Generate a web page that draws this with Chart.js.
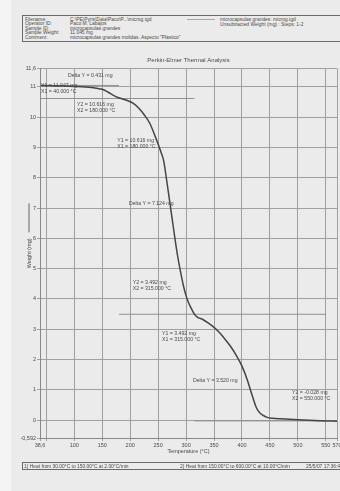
<!DOCTYPE html>
<html>
<head>
<meta charset="utf-8">
<script src="https://cdn.jsdelivr.net/npm/chart.js@4.4.1/dist/chart.umd.min.js"></script>
<style>
  html, body { margin: 0; padding: 0; width: 340px; height: 491px; overflow: hidden;
    background: #f4f4f4; font-family: "Liberation Sans", Arial, sans-serif; color: #4a4a4a; }
  #sheet { position: absolute; left: 11px; top: 0; width: 329px; height: 491px; background: #ebebeb; }
  #plot { position: absolute; left: 0; top: 0; }
  .box { position: absolute; border: 1px solid #6a6a6a; box-sizing: border-box; }
  .t { position: absolute; font-size: 4.9px; line-height: 5px; white-space: nowrap; color: #4a4a4a; }
  .swatch { position: absolute; height: 0; border-top: 1px solid #a8a8a8; }
</style>
</head>
<body>
<div id="sheet"></div>

<!-- run information header -->
<div class="box" style="left:22px;top:15px;width:330px;height:27px;"></div>
<div class="t" style="left:25px;top:16.5px;">Filename:</div>
<div class="t" style="left:70px;top:16.5px;">C:\PE\Pyris\Data\Paco\P...\microg.tgd</div>
<div class="t" style="left:25px;top:21.1px;">Operator ID:</div>
<div class="t" style="left:70px;top:21.1px;">Paco M. Labajos</div>
<div class="t" style="left:25px;top:25.7px;">Sample ID:</div>
<div class="t" style="left:70px;top:25.7px;">microcapsulas grandes</div>
<div class="t" style="left:25px;top:30.2px;">Sample Weight:</div>
<div class="t" style="left:70px;top:30.2px;">11.045 mg</div>
<div class="t" style="left:25px;top:34.7px;">Comment:</div>
<div class="t" style="left:70px;top:34.7px;">microcapsulas grandes molidas. Aspecto "Plástico"</div>
<div class="swatch" style="left:187px;top:19px;width:28px;"></div>
<div class="t" style="left:220px;top:16.5px;">microcapsulas grandes: microg.tgd</div>
<div class="t" style="left:220px;top:21.5px;">Unsubtracted Weight (mg) : Steps: 1-2</div>

<canvas id="plot" width="340" height="491"></canvas>

<!-- method footer -->
<div class="box" style="left:22px;top:462px;width:330px;height:8px;"></div>
<div class="t" style="left:24px;top:463.5px;">1) Heat from 30.00°C to 150.00°C at 2.00°C/min</div>
<div class="t" style="left:180px;top:463.5px;">2) Heat from 150.00°C to 600.00°C at 10.00°C/min</div>
<div class="t" style="left:306px;top:463.5px;">25/5/07 17:36:47</div>

<script>
// Weight loss curve of the sample
const temperatureC = [40, 60, 80, 100, 120, 140, 150, 160, 170, 178, 185, 195, 205, 215, 225, 235, 245,
  255, 260, 265, 270, 275, 280, 285, 290, 295, 300, 305, 310, 315, 320, 330, 340, 350, 360, 370, 380,
  390, 400, 410, 415, 420, 425, 430, 437, 445, 455, 470, 500, 530, 550, 570];
const weightMg = [11.047, 11.040, 11.030, 11.015, 10.995, 10.955, 10.920, 10.830, 10.720, 10.650, 10.610,
  10.550, 10.460, 10.300, 10.080, 9.800, 9.350, 8.850, 8.550, 7.950, 7.300, 6.650, 6.000, 5.400, 4.900,
  4.450, 4.100, 3.850, 3.660, 3.492, 3.400, 3.320, 3.200, 3.060, 2.880, 2.660, 2.420, 2.130, 1.780,
  1.300, 1.000, 0.710, 0.440, 0.280, 0.160, 0.090, 0.060, 0.040, 0.010, -0.015, -0.028, -0.035];

// Step baselines (weight level and temperature span)
const stepLevelMg = [11.047, 10.616, 3.492, -0.028];
const stepFromC = [40, 40, 180, 315];
const stepToC = [180, 315, 550, 550];

// Step readouts
const noteLines = [
  ["Delta Y = 0.431 mg"],
  ["Y1 = 11.047 mg", "X1 = 40.000 °C"],
  ["Y2 = 10.616 mg", "X2 = 180.000 °C"],
  ["Y1 = 10.616 mg", "X1 = 180.000 °C"],
  ["Delta Y = 7.124 mg"],
  ["Y2 = 3.492 mg", "X2 = 315.000 °C"],
  ["Y1 = 3.492 mg", "X1 = 315.000 °C"],
  ["Delta Y = 3.520 mg"],
  ["Y2 = -0.028 mg", "X2 = 550.000 °C"]
];
const noteAtC = [88.7, 40.4, 104.8, 176.9, 197.8, 204.5, 256.9, 312.3, 489.5];
const noteAtMg = [11.362, 11.039, 10.419, 9.241, 7.162, 4.545, 2.863, 1.299, 0.893];

// Axis ticks
const xTicks = [38.6, 50, 100, 150, 200, 250, 300, 350, 400, 450, 500, 550, 570];
const yTicks = [-0.592, 0, 1, 2, 3, 4, 5, 6, 7, 8, 9, 10, 11, 11.6];

const FONT = '"Liberation Sans", Arial, sans-serif';
const INK = '#4a4a4a';
const GRID = '#a0a0a0';

const comma = v => String(v).replace('.', ',');

const datasets = stepLevelMg.map((lvl, i) => ({
  data: [{ x: stepFromC[i], y: lvl }, { x: stepToC[i], y: lvl }],
  borderColor: '#888',
  borderWidth: 0.9,
  pointRadius: 0,
  order: 2
}));
datasets.push({
  data: temperatureC.map((t, i) => ({ x: t, y: weightMg[i] })),
  borderColor: '#454545',
  borderWidth: 1.5,
  pointRadius: 0,
  cubicInterpolationMode: 'monotone',
  order: 1
});

const stepNotes = {
  id: 'stepNotes',
  afterDatasetsDraw(chart) {
    const { ctx, scales: { x, y } } = chart;
    ctx.save();
    ctx.font = '5.2px ' + FONT;
    ctx.fillStyle = INK;
    ctx.textBaseline = 'middle';
    ctx.textAlign = 'left';
    noteLines.forEach((lines, i) => {
      const px = x.getPixelForValue(noteAtC[i]);
      const py = y.getPixelForValue(noteAtMg[i]);
      lines.forEach((s, k) => ctx.fillText(s, px, py + k * 6));
    });
    ctx.restore();
  },
  afterDraw(chart) {
    // line-style sample beside the weight axis title
    const { ctx, chartArea } = chart;
    const mid = (chartArea.top + chartArea.bottom) / 2;
    ctx.save();
    ctx.strokeStyle = '#666';
    ctx.lineWidth = 1;
    ctx.beginPath();
    ctx.moveTo(29, mid - 21);
    ctx.lineTo(29, mid - 50);
    ctx.stroke();
    ctx.restore();
  }
};

new Chart(document.getElementById('plot'), {
  type: 'line',
  data: { datasets },
  plugins: [stepNotes],
  options: {
    responsive: false,
    animation: false,
    events: [],
    layout: { padding: { top: 55, left: 0, right: 3, bottom: 33 } },
    plugins: {
      legend: { display: false },
      tooltip: { enabled: false },
      title: {
        display: true,
        text: 'Perkin-Elmer Thermal Analysis',
        fullSize: false,
        color: INK,
        font: { family: FONT, size: 6, weight: 'normal' },
        padding: { top: 1.4, bottom: 5.1 }
      }
    },
    scales: {
      x: {
        type: 'linear',
        min: 38.6,
        max: 570,
        afterBuildTicks: s => { s.ticks = xTicks.map(v => ({ value: v })); },
        afterFit: s => { s.height = 20; s.paddingLeft = 0; s.paddingRight = 0; },
        ticks: {
          autoSkip: false, maxRotation: 0, padding: 1, color: INK,
          font: { family: FONT, size: 5.5 },
          callback: v => (v === 50 ? '' : comma(v))
        },
        grid: { color: GRID, lineWidth: 1, tickLength: 3 },
        border: { color: '#888', width: 1 },
        title: {
          display: true, text: 'Temperature (°C)', color: INK,
          font: { family: FONT, size: 5.5 }, padding: { top: 0, bottom: 3.7 }
        }
      },
      y: {
        type: 'linear',
        min: -0.592,
        max: 11.6,
        afterBuildTicks: s => { s.ticks = yTicks.map(v => ({ value: v })); },
        afterFit: s => { s.width = 40; s.paddingTop = 0; s.paddingBottom = 0; },
        ticks: {
          autoSkip: false, padding: 1, color: INK,
          font: { family: FONT, size: 5.5 },
          callback: v => comma(v)
        },
        grid: { color: GRID, lineWidth: 1, tickLength: 3 },
        border: { color: '#888', width: 1 },
        title: {
          display: true, text: 'Weight (mg)', color: INK,
          font: { family: FONT, size: 5.5 }, padding: { top: 25.7, bottom: 0 }
        }
      }
    }
  }
});
</script>
</body>
</html>
